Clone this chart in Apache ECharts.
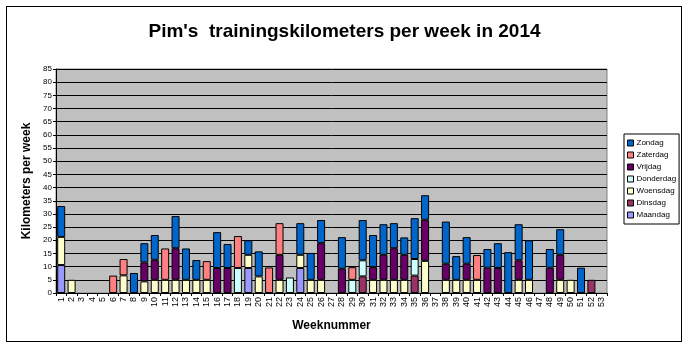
<!DOCTYPE html>
<html>
<head>
<meta charset="utf-8">
<script src="https://cdn.jsdelivr.net/npm/echarts@6/dist/echarts.min.js"></script>
<style>
  html, body { margin: 0; padding: 0; background: #fff; }
  #frame { position: absolute; left: 6px; top: 6px; width: 676px; height: 336px; border: 1px solid #000; box-sizing: border-box; }
  #chart { width: 689px; height: 352px; }
</style>
</head>
<body>
<div id="frame"></div>
<div id="chart"></div>
<script>
// weeknummers 1..53
const weeks = Array.from({ length: 53 }, (_, i) => String(i + 1));

// km per dag, per week (0 = niet gelopen)
const maandag   = [10.6,0,0,0,0,0,0,0,0,0, 0,0,0,0,0,0,0,0,9.5,0, 0,0,0,9.5,0,0,0,0,0,0, 0,0,0,0,0,0,0,0,0,0, 0,0,0,0,0,0,0,0,0,0, 0,0,0];
const dinsdag   = [0,0,0,0,0,0,0,0,0,0, 0,0,0,0,0,0,0,0,0,0, 0,0,0,0,0,0,0,0,0,6.3, 0,0,0,0,6.6,0,0,0,0,0, 0,0,0,0,0,0,0,0,0,0, 0,5,0];
const woensdag  = [10.7,5,0,0,0,0,6.7,0,4.4,5, 5,5,5,5,5,0,0,0,5,6.3, 0,5,0,5,5,5,0,0,0,0, 5,5,5,5,0,12.2,0,5,5,5, 5,0,0,0,5,5,0,0,5,5, 0,0,0];
const donderdag = [0,0,0,0,0,0,0,0,0,0, 0,0,0,0,0,0,0,9.5,0,0, 0,0,5.9,0,0,0,0,0,5,6.1, 0,0,0,0,6.3,0,0,0,0,0, 0,0,0,0,0,0,0,0,0,0, 0,0,0];
const vrijdag   = [0,0,0,0,0,0,0,0,7.2,7.6, 0,12,0,0,0,9.5,9.5,0,0,0, 0,9.5,0,0,0,13.9,0,9.2,0,0, 4.8,9.5,12,9.5,0,15.6,0,6.1,0,6.1, 0,9.6,9.5,0,7.4,0,0,9.6,9.5,0, 0,0,0];
const zaterdag  = [0,0,0,0,0,6.6,6.2,0,0,0, 11.9,0,0,0,7.1,0,0,12.1,0,0, 9.7,12,0,0,0,0,0,0,4.8,0, 0,0,0,0,0,0,0,0,0,0, 9.4,0,0,0,0,0,0,0,0,0, 0,0,0];
const zondag    = [11.7,0,0,0,0,0,0,7.6,7.3,9.4, 0,12.2,11.9,7.5,0,13.6,9.1,0,5.5,9.5, 0,0,0,12,10.2,8.8,0,12,0,15.3, 12.2,11.6,9.5,6.6,15.5,9.3,0,16,9,10.1, 0,7.1,9.4,15.5,13.7,15,0,7.1,9.7,0, 9.6,0,0];

const dagen = ['Maandag', 'Dinsdag', 'Woensdag', 'Donderdag', 'Vrijdag', 'Zaterdag', 'Zondag'];
const waarden = [maandag, dinsdag, woensdag, donderdag, vrijdag, zaterdag, zondag];
const kleuren = ['#9999FF', '#993366', '#FFFFCC', '#CCFFFF', '#660066', '#FF8080', '#0066CC'];

const FONT = 'Liberation Sans, Arial, sans-serif';

const chart = echarts.init(document.getElementById('chart'), null, { renderer: 'canvas' });

const option = {
  animation: false,
  title: {
    text: "Pim's  trainingskilometers per week in 2014",
    left: 'center', top: 17,
    textStyle: { fontFamily: FONT, fontSize: 19, fontWeight: 'bold', color: '#000' }
  },
  legend: {
    orient: 'vertical',
    left: 624, top: 134,
    data: dagen.slice().reverse(),
    itemWidth: 6, itemHeight: 6, itemGap: 2,
    padding: [4, 3, 4, 3],
    borderColor: '#000', borderWidth: 1,
    icon: 'rect',
    itemStyle: { borderColor: '#000', borderWidth: 1 },
    textStyle: { fontFamily: FONT, fontSize: 8, lineHeight: 10, color: '#000', padding: [0, 0, 0, -2] }
  },
  grid: { left: 56, right: 82, top: 69, bottom: 59, containLabel: false,
          show: true, backgroundColor: '#C0C0C0', borderColor: '#808080', borderWidth: 1 },
  xAxis: {
    type: 'category', data: weeks,
    name: 'Weeknummer', nameLocation: 'middle', nameGap: 27,
    nameTextStyle: { fontFamily: FONT, fontSize: 12, fontWeight: 'bold', color: '#000' },
    axisLine: { lineStyle: { color: '#000' } },
    axisTick: { show: true, length: 3, lineStyle: { color: '#000' } },
    axisLabel: { rotate: 90, interval: 0, fontFamily: FONT, fontSize: 9, color: '#000', margin: 4 }
  },
  yAxis: {
    type: 'value', min: 0, max: 85, interval: 5,
    name: 'Kilometers per week', nameLocation: 'middle', nameGap: 21,
    nameTextStyle: { fontFamily: FONT, fontSize: 12, fontWeight: 'bold', color: '#000' },
    axisLine: { show: true, lineStyle: { color: '#000' } },
    axisTick: { show: true, length: 3, lineStyle: { color: '#000' } },
    axisLabel: { fontFamily: FONT, fontSize: 8, color: '#000', margin: 4 },
    splitLine: { lineStyle: { color: '#000', width: 1 } }
  },
  series: dagen.map((naam, i) => ({
    name: naam, type: 'bar', stack: 'km',
    data: waarden[i].map(v => v === 0 ? null : v),
    barWidth: 8,
    itemStyle: { color: kleuren[i], borderColor: '#000', borderWidth: 1 }
  }))
};

chart.setOption(option);
</script>
</body>
</html>
